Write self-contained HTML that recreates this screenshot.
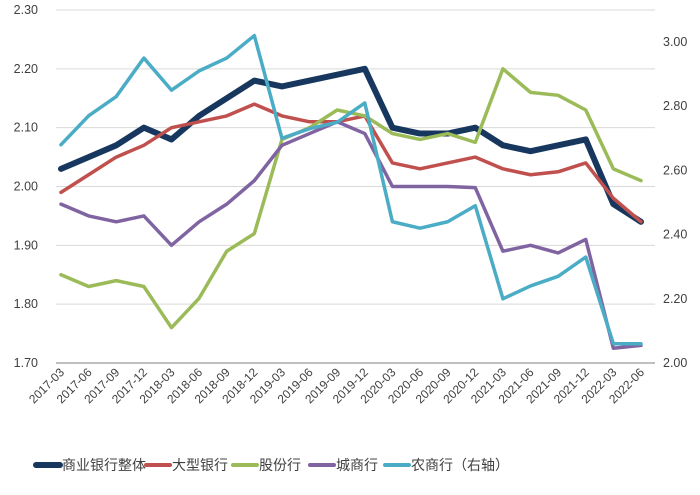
<!DOCTYPE html>
<html><head><meta charset="utf-8"><style>
body{margin:0;background:#fff;width:700px;height:490px;overflow:hidden}
text{font-family:"Liberation Sans","Noto Sans CJK SC",sans-serif;fill:#404040}
</style></head><body>
<svg id="chart" width="700" height="490" xmlns="http://www.w3.org/2000/svg">
<g id="grid"></g><g id="series"></g><g id="axes"></g><g id="legend"></g>
</svg>
<script>
const categories=["2017-03","2017-06","2017-09","2017-12","2018-03","2018-06","2018-09","2018-12","2019-03","2019-06","2019-09","2019-12","2020-03","2020-06","2020-09","2020-12","2021-03","2021-06","2021-09","2021-12","2022-03","2022-06"];
const overall=[2.03,2.05,2.07,2.10,2.08,2.12,2.15,2.18,2.17,2.18,2.19,2.20,2.10,2.09,2.09,2.10,2.07,2.06,2.07,2.08,1.97,1.94];
const large=[1.99,2.02,2.05,2.07,2.10,2.11,2.12,2.14,2.12,2.11,2.11,2.12,2.04,2.03,2.04,2.05,2.03,2.02,2.025,2.04,1.98,1.94];
const jointStock=[1.85,1.83,1.84,1.83,1.76,1.81,1.89,1.92,2.08,2.10,2.13,2.12,2.09,2.08,2.09,2.075,2.20,2.16,2.155,2.13,2.03,2.01];
const cityBanks=[1.97,1.95,1.94,1.95,1.90,1.94,1.97,2.01,2.07,2.09,2.11,2.09,2.00,2.00,2.00,1.998,1.89,1.90,1.887,1.91,1.725,1.73];
const ruralRight=[2.68,2.77,2.83,2.95,2.85,2.91,2.95,3.02,2.70,2.73,2.75,2.81,2.44,2.42,2.44,2.49,2.20,2.24,2.27,2.33,2.06,2.06];
const leftTicks=["1.70","1.80","1.90","2.00","2.10","2.20","2.30"];
const rightTicks=["2.00","2.20","2.40","2.60","2.80","3.00"];
const NS="http://www.w3.org/2000/svg";
const x0=61,x1=641,pl=14,pr=655;
function xs(i){return x0+i*(x1-x0)/(categories.length-1);}
function yl(v){return 363-(v-1.70)/0.60*353;}
function yr(v){return 363-(v-2.00)/1.00*321;}
function mk(t,a,p){const e=document.createElementNS(NS,t);for(const k in a)e.setAttribute(k,a[k]);(p||document.getElementById('chart')).appendChild(e);return e;}
const grid=document.getElementById('grid'),axes=document.getElementById('axes'),ser=document.getElementById('series'),leg=document.getElementById('legend');
leftTicks.forEach((t,i)=>{const y=yl(+t);
 const l=mk('line',{x1:pl+42,x2:pr,y1:y,y2:y,stroke:i==0?'#bfbfbf':'#d9d9d9','stroke-width':i==0?2:1},grid);
 
 
 const tx=mk('text',{x:38,y:y+4,'text-anchor':'end','font-size':12.5},axes);tx.textContent=t;
 
 });
rightTicks.forEach(t=>{const tx=mk('text',{x:663,y:yr(+t)+4,'font-size':12.5},axes);tx.textContent=t;
 
 });
categories.forEach((c,i)=>{const x=xs(i)+4,y=373;const tx=mk('text',{x:x,y:y,'text-anchor':'end','font-size':12,transform:`rotate(-45 ${x} ${y})`},axes);tx.textContent=c;
 
 });
const series=[
 {name:'商业银行整体',data:overall,color:'#17375e',w:6,right:false,key:'overall'},
 {name:'大型银行',data:large,color:'#c0504d',w:3.5,right:false,key:'large'},
 {name:'股份行',data:jointStock,color:'#9bbb59',w:3.5,right:false,key:'joint-stock'},
 {name:'城商行',data:cityBanks,color:'#8064a2',w:3.5,right:false,key:'city'},
 {name:'农商行（右轴）',data:ruralRight,color:'#4bacc6',w:3.5,right:true,key:'rural'}];
const lx=[36,146,233,310,385];
series.forEach((s,k)=>{
 const pts=s.data.map((v,i)=>xs(i)+','+(s.right?yr(v):yl(v))).join(' ');
 const p=mk('polyline',{points:pts,fill:'none',stroke:s.color,'stroke-width':s.w,'stroke-linejoin':'round','stroke-linecap':'round'},ser);
 
 
 const g=mk('g',{},leg);
 
 
 mk('line',{x1:lx[k],x2:lx[k]+24,y1:465,y2:465,stroke:s.color,'stroke-width':k==0?6:4,'stroke-linecap':'round'},g);
 const t=mk('text',{x:lx[k]+26,y:470,'font-size':14},g);t.textContent=s.name;});
</script>
</body></html>
